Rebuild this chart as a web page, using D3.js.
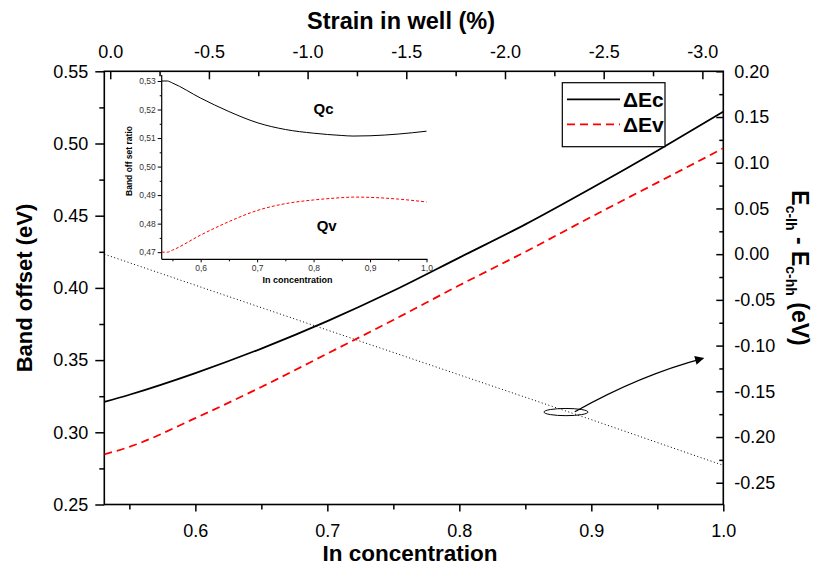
<!DOCTYPE html>
<html>
<head>
<meta charset="utf-8">
<script src="https://cdn.jsdelivr.net/npm/d3@7/dist/d3.min.js"></script>
<style>
  html, body { margin: 0; padding: 0; background: #fff; }
  svg { display: block; }
  text { font-family: "Liberation Sans", Arial, sans-serif; }
</style>
</head>
<body>
<svg id="chart" width="820" height="569"></svg>
<script>
// ---------------- data ----------------
const inConc   = [0.531, 0.55, 0.6, 0.65, 0.7, 0.75, 0.8, 0.85, 0.9, 0.95, 1.0];
const deltaEc  = [0.321, 0.326, 0.341, 0.358, 0.377, 0.398, 0.421, 0.444, 0.469, 0.495, 0.522];
const deltaEv  = [0.2847, 0.2899, 0.3098, 0.3314, 0.3545, 0.3778, 0.4018, 0.4250, 0.4492, 0.4729, 0.4967];

const splitX   = [0.531, 0.6, 0.7, 0.8, 0.9, 1.0];
const splitE   = [0.000, -0.034, -0.083, -0.132, -0.181, -0.231];   // Ec-lh - Ec-hh (eV)

const insetX   = [0.531, 0.541, 0.55, 0.6, 0.65, 0.7, 0.75, 0.8, 0.85, 0.87, 0.9, 0.95, 1.0];
const ratioQc  = [0.530, 0.530, 0.5293, 0.524, 0.5193, 0.5154, 0.513, 0.5117, 0.5109, 0.5107, 0.5108, 0.5114, 0.5124];
const ratioQv  = [0.470, 0.470, 0.4707, 0.476, 0.4807, 0.4846, 0.487, 0.4883, 0.4891, 0.4893, 0.4892, 0.4886, 0.4876];

const bottomTicks      = [0.6, 0.7, 0.8, 0.9, 1.0];
const bottomMinorTicks = [0.55, 0.65, 0.75, 0.85, 0.95];
const leftTicks        = [0.25, 0.30, 0.35, 0.40, 0.45, 0.50, 0.55];
const leftMinorTicks   = [0.275, 0.325, 0.375, 0.425, 0.475, 0.525];
const topTicks         = [0.0, -0.5, -1.0, -1.5, -2.0, -2.5, -3.0];
const topMinorTicks    = [-0.25, -0.75, -1.25, -1.75, -2.25, -2.75];
const rightTicks       = [0.20, 0.15, 0.10, 0.05, 0.00, -0.05, -0.10, -0.15, -0.20, -0.25];
const rightMinorTicks  = [0.175, 0.125, 0.075, 0.025, -0.025, -0.075, -0.125, -0.175, -0.225];
const insetYTicks      = [0.47, 0.48, 0.49, 0.50, 0.51, 0.52, 0.53];
const insetYMinor      = [0.475, 0.485, 0.495, 0.505, 0.515, 0.525];
const insetXTicks      = [0.6, 0.7, 0.8, 0.9, 1.0];
const insetXMinor      = [0.55, 0.65, 0.75, 0.85, 0.95];

const legendLabels = ["\u0394Ec", "\u0394Ev"];

// annotation (ellipse + arrow) in data coordinates
const ellipseAt = {x: 0.8808, y: -0.1727};
const arrowPts  = [[0.8875, -0.1723], [0.9368, -0.1322], [0.9848, -0.1139]];

// ---------------- layout ----------------
const svg = d3.select("#chart");
const X0 = 104.3, X1 = 723.3, Y0 = 71.3, Y1 = 504.5;
const FONT = '"Liberation Sans", Arial, sans-serif';

const x    = d3.scaleLinear().domain([0.531, 1.0]).range([X0, X1]);
const yL   = d3.scaleLinear().domain([0.25, 0.55]).range([Y1, Y0]);
const yR   = d3.scaleLinear().domain([-0.2738, 0.20]).range([Y1, Y0]);
const xTop = d3.scaleLinear().domain([0.03, -3.106]).range([X0, X1]);

function styleAxis(g, size, fill) {
  g.select(".domain").remove();
  g.attr("font-family", FONT).attr("font-size", size);
  g.selectAll("line").attr("stroke", "#000").attr("stroke-width", 1.5);
  g.selectAll("text").attr("fill", fill || "#000");
}

// frame
svg.append("rect").attr("x", X0).attr("y", Y0).attr("width", X1 - X0).attr("height", Y1 - Y0)
  .attr("fill", "none").attr("stroke", "#000").attr("stroke-width", 1.6);

// left axis
svg.append("g").attr("transform", `translate(${X0},0)`)
  .call(d3.axisLeft(yL).tickValues(leftTicks).tickSize(9).tickPadding(7).tickFormat(d => d.toFixed(2)))
  .call(g => styleAxis(g, 18));
svg.append("g").attr("transform", `translate(${X0},0)`)
  .call(d3.axisLeft(yL).tickValues(leftMinorTicks).tickSize(5).tickFormat(""))
  .call(g => styleAxis(g, 18));

// bottom axis
svg.append("g").attr("transform", `translate(0,${Y1})`)
  .call(d3.axisBottom(x).tickValues(bottomTicks).tickSize(7).tickPadding(13).tickFormat(d => d.toFixed(1)))
  .call(g => styleAxis(g, 18));
svg.append("g").attr("transform", `translate(0,${Y1})`)
  .call(d3.axisBottom(x).tickValues(bottomMinorTicks).tickSize(5).tickFormat(""))
  .call(g => styleAxis(g, 18));

// top axis (strain), ticks inward
svg.append("g").attr("transform", `translate(0,${Y0})`)
  .call(d3.axisTop(xTop).tickValues(topTicks).tickSize(-8).tickPadding(13).tickFormat(d => d.toFixed(1)))
  .call(g => styleAxis(g, 18));
svg.append("g").attr("transform", `translate(0,${Y0})`)
  .call(d3.axisTop(xTop).tickValues(topMinorTicks).tickSize(-5).tickFormat(""))
  .call(g => styleAxis(g, 18));

// right axis, ticks inward
svg.append("g").attr("transform", `translate(${X1},0)`)
  .call(d3.axisRight(yR).tickValues(rightTicks).tickSize(-7).tickPadding(11).tickFormat(d => d.toFixed(2)))
  .call(g => styleAxis(g, 18));
svg.append("g").attr("transform", `translate(${X1},0)`)
  .call(d3.axisRight(yR).tickValues(rightMinorTicks).tickSize(-4).tickFormat(""))
  .call(g => styleAxis(g, 18));

// titles
svg.append("text").attr("x", 401).attr("y", 29).attr("text-anchor", "middle")
  .attr("font-size", 23.5).attr("font-weight", "bold").text("Strain in well (%)");
svg.append("text").attr("x", 410).attr("y", 561).attr("text-anchor", "middle")
  .attr("font-size", 22.5).attr("font-weight", "bold").text("In concentration");
svg.append("text").attr("transform", "translate(32,288) rotate(-90)").attr("text-anchor", "middle")
  .attr("font-size", 22).attr("font-weight", "bold").text("Band offset (eV)");

const rt = svg.append("text").attr("transform", "translate(792,268) rotate(90)")
  .attr("text-anchor", "middle").attr("font-size", 23).attr("font-weight", "bold");
rt.append("tspan").text("E");
rt.append("tspan").attr("dy", 6).attr("font-size", 14).text("c-lh");
rt.append("tspan").attr("dy", -6).text(" - E");
rt.append("tspan").attr("dy", 6).attr("font-size", 14).text("c-hh");
rt.append("tspan").attr("dy", -6).text(" (eV)");

// clip for main data
svg.append("clipPath").attr("id", "clipMain").append("rect")
  .attr("x", X0).attr("y", Y0).attr("width", X1 - X0).attr("height", Y1 - Y0);
const plot = svg.append("g").attr("clip-path", "url(#clipMain)");

// split line (right axis)
plot.append("path")
  .datum(splitX.map((v, i) => [v, splitE[i]]))
  .attr("d", d3.line().x(d => x(d[0])).y(d => yR(d[1])))
  .attr("fill", "none").attr("stroke", "#000").attr("stroke-width", 1)
  .attr("stroke-dasharray", "1,2.5");

// Ec, Ev
const lineL = d3.line().x(d => x(d[0])).y(d => yL(d[1])).curve(d3.curveMonotoneX);
plot.append("path").datum(inConc.map((v, i) => [v, deltaEc[i]])).attr("d", lineL)
  .attr("fill", "none").attr("stroke", "#000").attr("stroke-width", 1.8);
plot.append("path").datum(inConc.map((v, i) => [v, deltaEv[i]])).attr("d", lineL)
  .attr("fill", "none").attr("stroke", "#ff0000").attr("stroke-width", 1.8)
  .attr("stroke-dasharray", "8,5");

// annotation
svg.append("defs").append("marker").attr("id", "arrowHead")
  .attr("viewBox", "0 0 10 10").attr("refX", 9).attr("refY", 5)
  .attr("markerWidth", 11).attr("markerHeight", 9).attr("markerUnits", "userSpaceOnUse")
  .attr("orient", "auto")
  .append("path").attr("d", "M0,0 L10,5 L0,10 z").attr("fill", "#000");
svg.append("ellipse").attr("cx", x(ellipseAt.x)).attr("cy", yR(ellipseAt.y))
  .attr("rx", 22).attr("ry", 3.6).attr("fill", "none").attr("stroke", "#000").attr("stroke-width", 1);
const ap = arrowPts.map(p => [x(p[0]), yR(p[1])]);
svg.append("path").attr("d", `M${ap[0][0]},${ap[0][1]} Q${ap[1][0]},${ap[1][1]} ${ap[2][0]},${ap[2][1]}`)
  .attr("fill", "none").attr("stroke", "#000").attr("stroke-width", 1.2)
  .attr("marker-end", "url(#arrowHead)");

// legend
const lg = svg.append("g");
lg.append("rect").attr("x", 562.3).attr("y", 82.7).attr("width", 102.7).attr("height", 64)
  .attr("fill", "#fff").attr("stroke", "#000").attr("stroke-width", 1.2);
const legendStyles = [{c: "#000", d: null}, {c: "#ff0000", d: "8,5"}];
legendLabels.forEach((lab, i) => {
  const yy = 99.3 + i * 25;
  lg.append("line").attr("x1", 567).attr("x2", 620).attr("y1", yy).attr("y2", yy)
    .attr("stroke", legendStyles[i].c).attr("stroke-width", 1.8)
    .attr("stroke-dasharray", legendStyles[i].d);
  lg.append("text").attr("x", 623).attr("y", yy + 7.5).attr("font-size", 21)
    .attr("font-weight", "bold").text(lab);
});

// ---------------- inset ----------------
const IX0 = 161.7, IX1 = 426.5, IY0 = 75, IY1 = 259.3;
const ix = d3.scaleLinear().domain([0.531, 1.0]).range([IX0, IX1]);
const iy = d3.scaleLinear().domain([0.4675, 0.5321]).range([IY1, IY0]);

const inset = svg.append("g");
function styleInset(g) {
  g.select(".domain").remove();
  g.attr("font-family", FONT).attr("font-size", 8.5);
  g.selectAll("line").attr("stroke", "#000").attr("stroke-width", 1);
  g.selectAll("text").attr("fill", "#333");
}
inset.append("g").attr("transform", `translate(${IX0},0)`)
  .call(d3.axisLeft(iy).tickValues(insetYTicks).tickSize(4).tickPadding(2).tickFormat(d => d.toFixed(2).replace(".", ",")))
  .call(styleInset);
inset.append("g").attr("transform", `translate(${IX0},0)`)
  .call(d3.axisLeft(iy).tickValues(insetYMinor).tickSize(2).tickFormat(""))
  .call(styleInset);
inset.append("g").attr("transform", `translate(0,${IY1})`)
  .call(d3.axisBottom(ix).tickValues(insetXTicks).tickSize(3).tickPadding(3).tickFormat(d => d.toFixed(1).replace(".", ",")))
  .call(styleInset);
inset.append("g").attr("transform", `translate(0,${IY1})`)
  .call(d3.axisBottom(ix).tickValues(insetXMinor).tickSize(2).tickFormat(""))
  .call(styleInset);
inset.append("line").attr("x1", IX0).attr("x2", IX0).attr("y1", IY0).attr("y2", IY1)
  .attr("stroke", "#000").attr("stroke-width", 1.2);
inset.append("line").attr("x1", IX0).attr("x2", IX1 + 1).attr("y1", IY1).attr("y2", IY1)
  .attr("stroke", "#000").attr("stroke-width", 1.2);

const lineI = d3.line().x(d => ix(d[0])).y(d => iy(d[1])).curve(d3.curveMonotoneX);
inset.append("path").datum(insetX.map((v, i) => [v, ratioQc[i]])).attr("d", lineI)
  .attr("fill", "none").attr("stroke", "#000").attr("stroke-width", 1);
inset.append("path").datum(insetX.map((v, i) => [v, ratioQv[i]])).attr("d", lineI)
  .attr("fill", "none").attr("stroke", "#ff0000").attr("stroke-width", 1)
  .attr("stroke-dasharray", "3,2");

inset.append("text").attr("x", 323.5).attr("y", 113.5).attr("text-anchor", "middle")
  .attr("font-size", 15).attr("font-weight", "bold").text("Qc");
inset.append("text").attr("x", 326.7).attr("y", 231).attr("text-anchor", "middle")
  .attr("font-size", 15).attr("font-weight", "bold").text("Qv");
inset.append("text").attr("x", 297.5).attr("y", 282.5).attr("text-anchor", "middle")
  .attr("font-size", 9).attr("font-weight", "bold").text("In concentration");
inset.append("text").attr("transform", "translate(131.5,161) rotate(-90)").attr("text-anchor", "middle")
  .attr("font-size", 8.5).attr("font-weight", "bold").text("Band off set ratio");
</script>
</body>
</html>
